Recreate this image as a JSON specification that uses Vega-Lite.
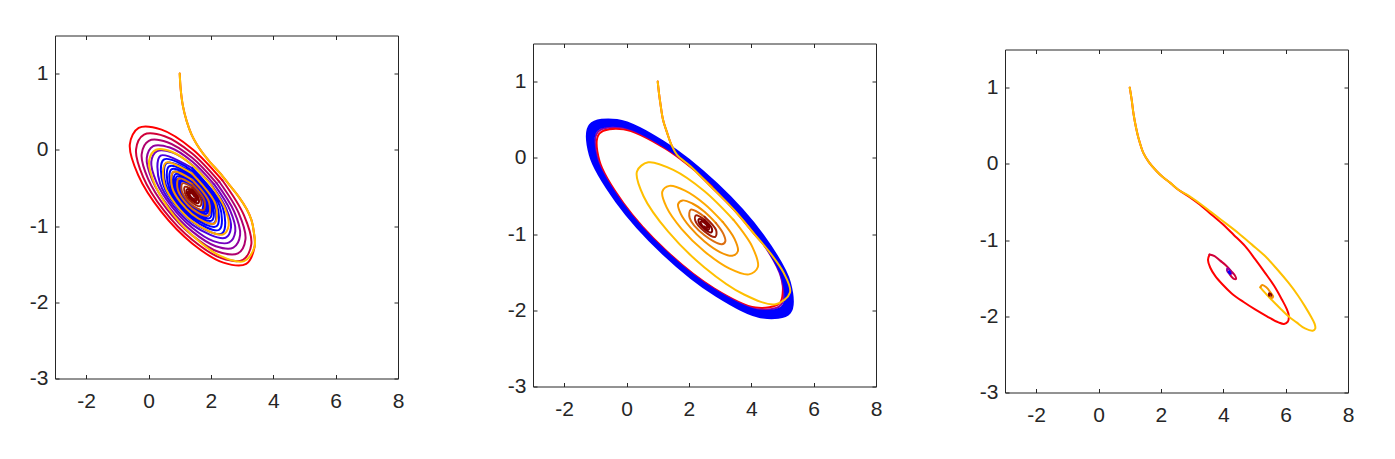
{
"$schema":"https://vega.github.io/schema/vega-lite/v6.json",
"padding":{"left":29,"top":32.5,"right":0,"bottom":0},
"background":"#ffffff",
"config":{"view":{"stroke":null},"axis":{"domainColor":"#262626","domainWidth":1,"tickColor":"#262626","tickWidth":1,"tickSize":-4,"labelColor":"#262626","labelFont":"Liberation Sans","labelFontSize":21,"grid":false,"labelFlush":false,"labelOverlap":false}},
"datasets":{"d":[
{"k":"1a0","c":"r","x":1.0,"y":1.0},{"k":"1a0","c":"r","x":1.03,"y":0.8},{"k":"1a0","c":"r","x":1.10,"y":0.58},{"k":"1a0","c":"r","x":1.22,"y":0.38},{"k":"1a0","c":"r","x":1.38,"y":0.2},{"k":"1a0","c":"r","x":1.55,"y":0.07},{"k":"1a0","c":"r","x":1.75,"y":-0.05},{"k":"1a0","c":"r","x":1.97,"y":-0.16},{"k":"1a0","c":"r","x":2.3,"y":-0.31},{"k":"1a0","c":"r","x":2.61,"y":-0.47},{"k":"1a0","c":"r","x":2.9,"y":-0.62},{"k":"1a0","c":"r","x":3.15,"y":-0.78},{"k":"1a0","c":"r","x":3.30,"y":-0.92},{"k":"1a0","c":"r","x":3.37,"y":-1.06},
{"k":"1a0","c":"r","x":3.400,"y":-1.272},{"k":"1a0","c":"r","x":3.132,"y":-1.496},{"k":"1a0","c":"r","x":2.400,"y":-1.480},{"k":"1a0","c":"r","x":1.400,"y":-1.228},{"k":"1a0","c":"r","x":0.400,"y":-0.808},{"k":"1a0","c":"r","x":-0.332,"y":-0.332},{"k":"1a0","c":"r","x":-0.600,"y":0.072},{"k":"1a0","c":"r","x":-0.317,"y":0.288},{"k":"1a0","c":"r","x":0.417,"y":0.265},{"k":"1a0","c":"r","x":1.400,"y":0.012},{"k":"1a0","c":"r","x":2.366,"y":-0.399},
{"k":"1a1","c":"cr","x":2.366,"y":-0.399},{"k":"1a1","c":"cr","x":3.058,"y":-0.857},{"k":"1a1","c":"cr","x":3.297,"y":-1.238},{"k":"1a1","c":"cr","x":3.029,"y":-1.443},{"k":"1a1","c":"cr","x":2.332,"y":-1.420},{"k":"1a1","c":"cr","x":1.400,"y":-1.180},{"k":"1a1","c":"cr","x":0.484,"y":-0.791},{"k":"1a1","c":"cr","x":-0.173,"y":-0.357},{"k":"1a1","c":"cr","x":-0.400,"y":0.005},{"k":"1a1","c":"cr","x":-0.145,"y":0.199},{"k":"1a1","c":"cr","x":0.516,"y":0.178},{"k":"1a1","c":"cr","x":1.400,"y":-0.049},{"k":"1a1","c":"cr","x":2.269,"y":-0.419},
{"k":"1a2","c":"mg","x":2.269,"y":-0.419},{"k":"1a2","c":"mg","x":2.892,"y":-0.831},{"k":"1a2","c":"mg","x":3.108,"y":-1.174},{"k":"1a2","c":"mg","x":2.866,"y":-1.358},{"k":"1a2","c":"mg","x":2.239,"y":-1.338},{"k":"1a2","c":"mg","x":1.400,"y":-1.122},{"k":"1a2","c":"mg","x":0.576,"y":-0.771},{"k":"1a2","c":"mg","x":-0.015,"y":-0.381},{"k":"1a2","c":"mg","x":-0.220,"y":-0.056},{"k":"1a2","c":"mg","x":0.009,"y":0.119},{"k":"1a2","c":"mg","x":0.604,"y":0.100},{"k":"1a2","c":"mg","x":1.400,"y":-0.105},{"k":"1a2","c":"mg","x":2.182,"y":-0.437},
{"k":"1a3","c":"pu","x":2.182,"y":-0.437},{"k":"1a3","c":"pu","x":2.743,"y":-0.808},{"k":"1a3","c":"pu","x":2.937,"y":-1.116},{"k":"1a3","c":"pu","x":2.719,"y":-1.282},{"k":"1a3","c":"pu","x":2.155,"y":-1.264},{"k":"1a3","c":"pu","x":1.400,"y":-1.070},{"k":"1a3","c":"pu","x":0.658,"y":-0.754},{"k":"1a3","c":"pu","x":0.126,"y":-0.403},{"k":"1a3","c":"pu","x":-0.058,"y":-0.110},{"k":"1a3","c":"pu","x":0.148,"y":0.048},{"k":"1a3","c":"pu","x":0.684,"y":0.030},{"k":"1a3","c":"pu","x":1.400,"y":-0.154},{"k":"1a3","c":"pu","x":2.104,"y":-0.454},
{"k":"1a4","c":"vi","x":2.104,"y":-0.454},{"k":"1a4","c":"vi","x":2.609,"y":-0.787},{"k":"1a4","c":"vi","x":2.783,"y":-1.065},{"k":"1a4","c":"vi","x":2.587,"y":-1.214},{"k":"1a4","c":"vi","x":2.080,"y":-1.198},{"k":"1a4","c":"vi","x":1.400,"y":-1.023},{"k":"1a4","c":"vi","x":0.732,"y":-0.739},{"k":"1a4","c":"vi","x":0.253,"y":-0.423},{"k":"1a4","c":"vi","x":0.088,"y":-0.159},{"k":"1a4","c":"vi","x":0.274,"y":-0.017},{"k":"1a4","c":"vi","x":0.755,"y":-0.033},{"k":"1a4","c":"vi","x":1.400,"y":-0.199},{"k":"1a4","c":"vi","x":2.034,"y":-0.468},
{"k":"1a5","c":"iv","x":2.034,"y":-0.468},{"k":"1a5","c":"iv","x":2.488,"y":-0.768},{"k":"1a5","c":"iv","x":2.645,"y":-1.018},{"k":"1a5","c":"iv","x":2.469,"y":-1.153},{"k":"1a5","c":"iv","x":1.400,"y":-0.981},{"k":"1a5","c":"iv","x":0.368,"y":-0.440},{"k":"1a5","c":"iv","x":0.387,"y":-0.076},{"k":"1a5","c":"iv","x":1.400,"y":-0.239},
{"k":"1a6","c":"bl","x":1.400,"y":-0.239},{"k":"1a6","c":"bl","x":2.379,"y":-0.751},{"k":"1a6","c":"bl","x":2.361,"y":-1.097},{"k":"1a6","c":"bl","x":1.400,"y":-0.943},{"k":"1a6","c":"bl","x":0.472,"y":-0.456},{"k":"1a6","c":"bl","x":0.487,"y":-0.128},{"k":"1a6","c":"bl","x":1.400,"y":-0.275},{"k":"1a6","c":"bl","x":2.282,"y":-0.736},{"k":"1a6","c":"bl","x":2.266,"y":-1.048},{"k":"1a6","c":"bl","x":1.400,"y":-0.908},{"k":"1a6","c":"bl","x":0.563,"y":-0.471},{"k":"1a6","c":"bl","x":0.579,"y":-0.175},{"k":"1a6","c":"bl","x":1.400,"y":-0.307},{"k":"1a6","c":"bl","x":2.193,"y":-0.723},{"k":"1a6","c":"bl","x":2.179,"y":-1.003},{"k":"1a6","c":"bl","x":1.400,"y":-0.878},{"k":"1a6","c":"bl","x":0.648,"y":-0.484},{"k":"1a6","c":"bl","x":0.660,"y":-0.217},{"k":"1a6","c":"bl","x":1.400,"y":-0.337},{"k":"1a6","c":"bl","x":2.114,"y":-0.710},{"k":"1a6","c":"bl","x":2.101,"y":-0.963},{"k":"1a6","c":"bl","x":1.400,"y":-0.850},{"k":"1a6","c":"bl","x":0.723,"y":-0.495},{"k":"1a6","c":"bl","x":0.735,"y":-0.256},{"k":"1a6","c":"bl","x":1.400,"y":-0.363},{"k":"1a6","c":"bl","x":2.043,"y":-0.699},{"k":"1a6","c":"bl","x":2.032,"y":-0.927},{"k":"1a6","c":"bl","x":1.400,"y":-0.825},{"k":"1a6","c":"bl","x":0.790,"y":-0.506},{"k":"1a6","c":"bl","x":0.801,"y":-0.290},{"k":"1a6","c":"bl","x":1.400,"y":-0.386},{"k":"1a6","c":"bl","x":1.978,"y":-0.690},{"k":"1a6","c":"bl","x":1.968,"y":-0.894},{"k":"1a6","c":"bl","x":1.400,"y":-0.803},{"k":"1a6","c":"bl","x":0.851,"y":-0.515},{"k":"1a6","c":"bl","x":0.860,"y":-0.320},{"k":"1a6","c":"bl","x":1.400,"y":-0.408},{"k":"1a6","c":"bl","x":1.921,"y":-0.681},{"k":"1a6","c":"bl","x":1.913,"y":-0.865},{"k":"1a6","c":"bl","x":1.400,"y":-0.783},{"k":"1a6","c":"bl","x":0.905,"y":-0.523},{"k":"1a6","c":"bl","x":0.913,"y":-0.348},{"k":"1a6","c":"bl","x":1.400,"y":-0.427},{"k":"1a6","c":"bl","x":1.869,"y":-0.673},{"k":"1a6","c":"bl","x":1.861,"y":-0.838},{"k":"1a6","c":"bl","x":1.400,"y":-0.765},{"k":"1a6","c":"bl","x":0.955,"y":-0.531},{"k":"1a6","c":"bl","x":0.962,"y":-0.373},{"k":"1a6","c":"bl","x":1.400,"y":-0.444},{"k":"1a6","c":"bl","x":1.823,"y":-0.665},{"k":"1a6","c":"bl","x":1.816,"y":-0.815},{"k":"1a6","c":"bl","x":1.400,"y":-0.748},{"k":"1a6","c":"bl","x":0.998,"y":-0.538},{"k":"1a6","c":"bl","x":1.005,"y":-0.396},{"k":"1a6","c":"bl","x":1.400,"y":-0.459},{"k":"1a6","c":"bl","x":1.781,"y":-0.659},{"k":"1a6","c":"bl","x":1.774,"y":-0.794},{"k":"1a6","c":"bl","x":1.400,"y":-0.733},{"k":"1a6","c":"bl","x":1.038,"y":-0.544},{"k":"1a6","c":"bl","x":1.045,"y":-0.416},{"k":"1a6","c":"bl","x":1.400,"y":-0.474},{"k":"1a6","c":"bl","x":1.743,"y":-0.653},{"k":"1a6","c":"bl","x":1.736,"y":-0.774},
{"k":"1b0","c":"go","x":1.0,"y":1.0},{"k":"1b0","c":"go","x":1.03,"y":0.8},{"k":"1b0","c":"go","x":1.10,"y":0.58},{"k":"1b0","c":"go","x":1.22,"y":0.38},{"k":"1b0","c":"go","x":1.38,"y":0.2},{"k":"1b0","c":"go","x":1.55,"y":0.07},{"k":"1b0","c":"go","x":1.75,"y":-0.05},{"k":"1b0","c":"go","x":1.97,"y":-0.16},{"k":"1b0","c":"go","x":2.3,"y":-0.31},{"k":"1b0","c":"go","x":2.61,"y":-0.47},{"k":"1b0","c":"go","x":2.9,"y":-0.62},{"k":"1b0","c":"go","x":3.15,"y":-0.78},{"k":"1b0","c":"go","x":3.30,"y":-0.92},{"k":"1b0","c":"go","x":3.37,"y":-1.06},
{"k":"1b0","c":"go","x":3.400,"y":-1.272},{"k":"1b0","c":"go","x":3.063,"y":-1.460},{"k":"1b0","c":"go","x":2.300,"y":-1.392},{"k":"1b0","c":"go","x":1.400,"y":-1.121},{"k":"1b0","c":"go","x":0.630,"y":-0.760},{"k":"1b0","c":"go","x":0.153,"y":-0.407},{"k":"1b0","c":"go","x":0.020,"y":-0.136},{"k":"1b0","c":"go","x":0.238,"y":0.001},{"k":"1b0","c":"go","x":0.747,"y":-0.025},{"k":"1b0","c":"go","x":1.400,"y":-0.201},{"k":"1b0","c":"go","x":2.018,"y":-0.471},
{"k":"1b1","c":"o1","x":2.018,"y":-0.471},{"k":"1b1","c":"o1","x":2.443,"y":-0.761},{"k":"1b1","c":"o1","x":2.570,"y":-0.993},{"k":"1b1","c":"o1","x":2.386,"y":-1.110},{"k":"1b1","c":"o1","x":1.400,"y":-0.938},{"k":"1b1","c":"o1","x":0.517,"y":-0.463},{"k":"1b1","c":"o1","x":0.563,"y":-0.167},{"k":"1b1","c":"o1","x":1.400,"y":-0.313},
{"k":"1b2","c":"o2","x":1.400,"y":-0.313},{"k":"1b2","c":"o2","x":2.150,"y":-0.716},{"k":"1b2","c":"o2","x":2.110,"y":-0.967},{"k":"1b2","c":"o2","x":1.400,"y":-0.844},{"k":"1b2","c":"o2","x":0.764,"y":-0.502},{"k":"1b2","c":"o2","x":0.797,"y":-0.288},{"k":"1b2","c":"o2","x":1.400,"y":-0.393},
{"k":"1b3","c":"o3","x":1.400,"y":-0.393},{"k":"1b3","c":"o3","x":1.940,"y":-0.684},{"k":"1b3","c":"o3","x":1.911,"y":-0.864},{"k":"1b3","c":"o3","x":1.400,"y":-0.775},{"k":"1b3","c":"o3","x":0.943,"y":-0.529},{"k":"1b3","c":"o3","x":0.967,"y":-0.376},{"k":"1b3","c":"o3","x":1.400,"y":-0.451},
{"k":"1b4","c":"o4","x":1.400,"y":-0.451},{"k":"1b4","c":"o4","x":1.788,"y":-0.660},{"k":"1b4","c":"o4","x":1.767,"y":-0.790},{"k":"1b4","c":"o4","x":1.400,"y":-0.726},{"k":"1b4","c":"o4","x":1.071,"y":-0.549},{"k":"1b4","c":"o4","x":1.088,"y":-0.439},{"k":"1b4","c":"o4","x":1.400,"y":-0.493},
{"k":"1b5","c":"o5","x":1.400,"y":-0.493},{"k":"1b5","c":"o5","x":1.679,"y":-0.643},{"k":"1b5","c":"o5","x":1.665,"y":-0.737},{"k":"1b5","c":"o5","x":1.400,"y":-0.691},{"k":"1b5","c":"o5","x":1.163,"y":-0.563},{"k":"1b5","c":"o5","x":1.175,"y":-0.484},{"k":"1b5","c":"o5","x":1.400,"y":-0.523},
{"k":"1b6","c":"dr","x":1.400,"y":-0.523},{"k":"1b6","c":"dr","x":1.601,"y":-0.631},{"k":"1b6","c":"dr","x":1.591,"y":-0.699},{"k":"1b6","c":"dr","x":1.400,"y":-0.665},{"k":"1b6","c":"dr","x":1.230,"y":-0.574},{"k":"1b6","c":"dr","x":1.239,"y":-0.517},{"k":"1b6","c":"dr","x":1.400,"y":-0.545},{"k":"1b6","c":"dr","x":1.544,"y":-0.622},{"k":"1b6","c":"dr","x":1.535,"y":-0.670},{"k":"1b6","c":"dr","x":1.400,"y":-0.646},{"k":"1b6","c":"dr","x":1.280,"y":-0.582},{"k":"1b6","c":"dr","x":1.287,"y":-0.542},{"k":"1b6","c":"dr","x":1.400,"y":-0.562},{"k":"1b6","c":"dr","x":1.499,"y":-0.615},{"k":"1b6","c":"dr","x":1.492,"y":-0.647},{"k":"1b6","c":"dr","x":1.400,"y":-0.631},{"k":"1b6","c":"dr","x":1.320,"y":-0.588},{"k":"1b6","c":"dr","x":1.326,"y":-0.561},{"k":"1b6","c":"dr","x":1.400,"y":-0.575},{"k":"1b6","c":"dr","x":1.464,"y":-0.610},
{"k":"2a0","c":"r","x":1.0,"y":1.0},{"k":"2a0","c":"r","x":1.04,"y":0.85},{"k":"2a0","c":"r","x":1.09,"y":0.70},{"k":"2a0","c":"r","x":1.17,"y":0.50},{"k":"2a0","c":"r","x":1.30,"y":0.33},{"k":"2a0","c":"r","x":1.45,"y":0.16},{"k":"2a0","c":"r","x":1.62,"y":0.04},{"k":"2a0","c":"r","x":2.05,"y":-0.11},{"k":"2a0","c":"r","x":2.69,"y":-0.37},{"k":"2a0","c":"r","x":3.44,"y":-0.68},{"k":"2a0","c":"r","x":4.08,"y":-0.99},{"k":"2a0","c":"r","x":4.61,"y":-1.25},
{"k":"2a0","c":"r","x":4.95,"y":-1.53},{"k":"2a0","c":"r","x":5.010,"y":-1.763},{"k":"2a0","c":"r","x":4.908,"y":-1.907},{"k":"2a0","c":"r","x":4.140,"y":-1.965},{"k":"2a0","c":"r","x":2.803,"y":-1.711},{"k":"2a0","c":"r","x":1.255,"y":-1.212},{"k":"2a0","c":"r","x":-0.090,"y":-0.600},{"k":"2a0","c":"r","x":-0.870,"y":-0.040},{"k":"2a0","c":"r","x":-0.874,"y":0.317},{"k":"2a0","c":"r","x":-0.100,"y":0.375},{"k":"2a0","c":"r","x":1.250,"y":0.119},{"k":"2a0","c":"r","x":2.812,"y":-0.384},
{"k":"2a1","c":"pu","x":2.812,"y":-0.384},{"k":"2a1","c":"pu","x":4.169,"y":-1.002},{"k":"2a1","c":"pu","x":4.956,"y":-1.567},{"k":"2a1","c":"pu","x":4.961,"y":-1.927},{"k":"2a1","c":"pu","x":4.179,"y":-1.986},{"k":"2a1","c":"pu","x":2.818,"y":-1.727},{"k":"2a1","c":"pu","x":1.241,"y":-1.219},{"k":"2a1","c":"pu","x":-0.128,"y":-0.596},{"k":"2a1","c":"pu","x":-0.923,"y":-0.026},{"k":"2a1","c":"pu","x":-0.927,"y":0.337},{"k":"2a1","c":"pu","x":-0.138,"y":0.397},{"k":"2a1","c":"pu","x":1.235,"y":0.136},{"k":"2a1","c":"pu","x":2.826,"y":-0.377},
{"k":"2a2","c":"bl","x":2.826,"y":-0.377},{"k":"2a2","c":"bl","x":4.208,"y":-1.006},{"k":"2a2","c":"bl","x":5.009,"y":-1.580},{"k":"2a2","c":"bl","x":5.014,"y":-1.948},{"k":"2a2","c":"bl","x":4.217,"y":-2.007},{"k":"2a2","c":"bl","x":2.832,"y":-1.744},{"k":"2a2","c":"bl","x":1.227,"y":-1.227},{"k":"2a2","c":"bl","x":-0.167,"y":-0.592},{"k":"2a2","c":"bl","x":-0.976,"y":-0.013},{"k":"2a2","c":"bl","x":-0.980,"y":0.358},{"k":"2a2","c":"bl","x":-0.177,"y":0.418},{"k":"2a2","c":"bl","x":1.221,"y":0.152},{"k":"2a2","c":"bl","x":2.840,"y":-0.369},{"k":"2a2","c":"bl","x":4.246,"y":-1.009},{"k":"2a2","c":"bl","x":5.062,"y":-1.594},{"k":"2a2","c":"bl","x":5.066,"y":-1.968},{"k":"2a2","c":"bl","x":4.256,"y":-2.029},{"k":"2a2","c":"bl","x":2.846,"y":-1.761},{"k":"2a2","c":"bl","x":1.213,"y":-1.234},{"k":"2a2","c":"bl","x":-0.206,"y":-0.589},{"k":"2a2","c":"bl","x":-1.028,"y":0.001},{"k":"2a2","c":"bl","x":-1.033,"y":0.378},{"k":"2a2","c":"bl","x":-0.215,"y":0.439},{"k":"2a2","c":"bl","x":1.207,"y":0.169},{"k":"2a2","c":"bl","x":2.854,"y":-0.362},{"k":"2a2","c":"bl","x":4.285,"y":-1.013},{"k":"2a2","c":"bl","x":5.115,"y":-1.608},{"k":"2a2","c":"bl","x":5.119,"y":-1.988},{"k":"2a2","c":"bl","x":4.295,"y":-2.050},{"k":"2a2","c":"bl","x":2.860,"y":-1.777},{"k":"2a2","c":"bl","x":1.199,"y":-1.242},{"k":"2a2","c":"bl","x":-0.244,"y":-0.585},{"k":"2a2","c":"bl","x":-1.081,"y":0.015},{"k":"2a2","c":"bl","x":-1.085,"y":0.398},{"k":"2a2","c":"bl","x":-0.254,"y":0.461},{"k":"2a2","c":"bl","x":1.193,"y":0.186},{"k":"2a2","c":"bl","x":2.868,"y":-0.354},{"k":"2a2","c":"bl","x":4.324,"y":-1.017},{"k":"2a2","c":"bl","x":5.167,"y":-1.622},{"k":"2a2","c":"bl","x":5.172,"y":-2.009},{"k":"2a2","c":"bl","x":4.333,"y":-2.071},{"k":"2a2","c":"bl","x":2.874,"y":-1.794},{"k":"2a2","c":"bl","x":1.185,"y":-1.249},{"k":"2a2","c":"bl","x":-0.283,"y":-0.582},{"k":"2a2","c":"bl","x":-1.134,"y":0.029},{"k":"2a2","c":"bl","x":-1.138,"y":0.419},{"k":"2a2","c":"bl","x":-0.293,"y":0.482},{"k":"2a2","c":"bl","x":1.179,"y":0.202},{"k":"2a2","c":"bl","x":2.882,"y":-0.347},{"k":"2a2","c":"bl","x":4.362,"y":-1.020},{"k":"2a2","c":"bl","x":5.220,"y":-1.636},{"k":"2a2","c":"bl","x":5.225,"y":-2.029},{"k":"2a2","c":"bl","x":4.369,"y":-2.091},{"k":"2a2","c":"bl","x":2.886,"y":-1.808},{"k":"2a2","c":"bl","x":1.174,"y":-1.255},{"k":"2a2","c":"bl","x":-0.309,"y":-0.579},{"k":"2a2","c":"bl","x":-1.165,"y":0.037},{"k":"2a2","c":"bl","x":-1.165,"y":0.429},{"k":"2a2","c":"bl","x":-0.309,"y":0.491},{"k":"2a2","c":"bl","x":1.174,"y":0.208},{"k":"2a2","c":"bl","x":2.886,"y":-0.345},{"k":"2a2","c":"bl","x":4.369,"y":-1.021},{"k":"2a2","c":"bl","x":5.225,"y":-1.637},{"k":"2a2","c":"bl","x":5.225,"y":-2.029},{"k":"2a2","c":"bl","x":4.369,"y":-2.091},{"k":"2a2","c":"bl","x":2.886,"y":-1.808},
{"k":"2b0","c":"go","x":1.0,"y":1.0},{"k":"2b0","c":"go","x":1.04,"y":0.85},{"k":"2b0","c":"go","x":1.09,"y":0.70},{"k":"2b0","c":"go","x":1.17,"y":0.50},{"k":"2b0","c":"go","x":1.30,"y":0.33},{"k":"2b0","c":"go","x":1.45,"y":0.16},{"k":"2b0","c":"go","x":1.62,"y":0.04},{"k":"2b0","c":"go","x":2.05,"y":-0.11},{"k":"2b0","c":"go","x":2.69,"y":-0.37},{"k":"2b0","c":"go","x":3.44,"y":-0.68},{"k":"2b0","c":"go","x":4.08,"y":-0.99},{"k":"2b0","c":"go","x":4.61,"y":-1.25},
{"k":"2b0","c":"go","x":5.04,"y":-1.51},{"k":"2b0","c":"go","x":5.242,"y":-1.766},{"k":"2b0","c":"go","x":4.784,"y":-1.920},{"k":"2b0","c":"go","x":3.768,"y":-1.793},{"k":"2b0","c":"go","x":2.500,"y":-1.438},{"k":"2b0","c":"go","x":1.329,"y":-0.966},{"k":"2b0","c":"go","x":0.549,"y":-0.507},{"k":"2b0","c":"go","x":0.334,"y":-0.180},{"k":"2b0","c":"go","x":0.696,"y":-0.059},{"k":"2b0","c":"go","x":1.499,"y":-0.159},{"k":"2b0","c":"go","x":2.500,"y":-0.439},{"k":"2b0","c":"go","x":3.425,"y":-0.812},
{"k":"2b1","c":"o1","x":3.425,"y":-0.812},{"k":"2b1","c":"o1","x":4.041,"y":-1.174},{"k":"2b1","c":"o1","x":4.211,"y":-1.433},{"k":"2b1","c":"o1","x":3.925,"y":-1.529},{"k":"2b1","c":"o1","x":3.291,"y":-1.450},{"k":"2b1","c":"o1","x":2.500,"y":-1.228},{"k":"2b1","c":"o1","x":1.768,"y":-0.934},{"k":"2b1","c":"o1","x":1.282,"y":-0.647},{"k":"2b1","c":"o1","x":1.147,"y":-0.443},{"k":"2b1","c":"o1","x":1.375,"y":-0.368},{"k":"2b1","c":"o1","x":1.876,"y":-0.430},{"k":"2b1","c":"o1","x":2.500,"y":-0.605},{"k":"2b1","c":"o1","x":3.078,"y":-0.838},
{"k":"2b2","c":"o2","x":3.078,"y":-0.838},{"k":"2b2","c":"o2","x":3.463,"y":-1.064},{"k":"2b2","c":"o2","x":3.570,"y":-1.226},{"k":"2b2","c":"o2","x":3.390,"y":-1.285},{"k":"2b2","c":"o2","x":2.995,"y":-1.236},{"k":"2b2","c":"o2","x":2.500,"y":-1.098},{"k":"2b2","c":"o2","x":2.043,"y":-0.913},{"k":"2b2","c":"o2","x":1.739,"y":-0.735},{"k":"2b2","c":"o2","x":1.654,"y":-0.607},{"k":"2b2","c":"o2","x":1.795,"y":-0.559},{"k":"2b2","c":"o2","x":2.110,"y":-0.599},{"k":"2b2","c":"o2","x":2.500,"y":-0.708},{"k":"2b2","c":"o2","x":2.861,"y":-0.854},
{"k":"2b3","c":"o3","x":2.861,"y":-0.854},{"k":"2b3","c":"o3","x":3.101,"y":-0.995},{"k":"2b3","c":"o3","x":3.168,"y":-1.096},{"k":"2b3","c":"o3","x":3.055,"y":-1.133},{"k":"2b3","c":"o3","x":2.500,"y":-1.016},{"k":"2b3","c":"o3","x":2.025,"y":-0.789},{"k":"2b3","c":"o3","x":2.061,"y":-0.680},{"k":"2b3","c":"o3","x":2.500,"y":-0.773},
{"k":"2b4","c":"o5","x":2.500,"y":-0.773},{"k":"2b4","c":"o5","x":2.874,"y":-0.951},{"k":"2b4","c":"o5","x":2.846,"y":-1.037},{"k":"2b4","c":"o5","x":2.500,"y":-0.965},{"k":"2b4","c":"o5","x":2.203,"y":-0.823},{"k":"2b4","c":"o5","x":2.226,"y":-0.755},{"k":"2b4","c":"o5","x":2.500,"y":-0.813},
{"k":"2b5","c":"dr","x":2.500,"y":-0.813},{"k":"2b5","c":"dr","x":2.735,"y":-0.925},{"k":"2b5","c":"dr","x":2.717,"y":-0.979},{"k":"2b5","c":"dr","x":2.500,"y":-0.933},{"k":"2b5","c":"dr","x":2.314,"y":-0.845},{"k":"2b5","c":"dr","x":2.330,"y":-0.802},{"k":"2b5","c":"dr","x":2.500,"y":-0.838},{"k":"2b5","c":"dr","x":2.647,"y":-0.908},{"k":"2b5","c":"dr","x":2.634,"y":-0.941},{"k":"2b5","c":"dr","x":2.500,"y":-0.913},{"k":"2b5","c":"dr","x":2.384,"y":-0.858},{"k":"2b5","c":"dr","x":2.394,"y":-0.832},{"k":"2b5","c":"dr","x":2.500,"y":-0.854},{"k":"2b5","c":"dr","x":2.590,"y":-0.897},{"k":"2b5","c":"dr","x":2.585,"y":-0.919},{"k":"2b5","c":"dr","x":2.500,"y":-0.900},
{"k":"3a0","c":"r","x":1.0,"y":1.0},{"k":"3a0","c":"r","x":1.06,"y":0.85},{"k":"3a0","c":"r","x":1.12,"y":0.66},{"k":"3a0","c":"r","x":1.2,"y":0.48},{"k":"3a0","c":"r","x":1.28,"y":0.34},{"k":"3a0","c":"r","x":1.44,"y":0.14},{"k":"3a0","c":"r","x":1.62,"y":0.02},{"k":"3a0","c":"r","x":1.85,"y":-0.09},{"k":"3a0","c":"r","x":2.05,"y":-0.17},{"k":"3a0","c":"r","x":2.3,"y":-0.25},{"k":"3a0","c":"r","x":2.56,"y":-0.34},
{"k":"3a0","c":"r","x":2.9,"y":-0.43},{"k":"3a0","c":"r","x":3.2,"y":-0.52},{"k":"3a0","c":"r","x":3.58,"y":-0.65},{"k":"3a0","c":"r","x":3.95,"y":-0.78},{"k":"3a0","c":"r","x":4.33,"y":-0.93},{"k":"3a0","c":"r","x":4.70,"y":-1.08},{"k":"3a0","c":"r","x":5.02,"y":-1.25},{"k":"3a0","c":"r","x":5.34,"y":-1.43},{"k":"3a0","c":"r","x":5.63,"y":-1.60},{"k":"3a0","c":"r","x":5.88,"y":-1.78},{"k":"3a0","c":"r","x":6.03,"y":-1.90},{"k":"3a0","c":"r","x":6.10,"y":-1.99},{"k":"3a0","c":"r","x":6.07,"y":-2.07},{"k":"3a0","c":"r","x":5.95,"y":-2.10},{"k":"3a0","c":"r","x":5.77,"y":-2.08},{"k":"3a0","c":"r","x":5.40,"y":-2.00},{"k":"3a0","c":"r","x":5.02,"y":-1.91},{"k":"3a0","c":"r","x":4.64,"y":-1.81},{"k":"3a0","c":"r","x":4.27,"y":-1.70},{"k":"3a0","c":"r","x":3.97,"y":-1.58},{"k":"3a0","c":"r","x":3.74,"y":-1.47},{"k":"3a0","c":"r","x":3.58,"y":-1.36},{"k":"3a0","c":"r","x":3.51,"y":-1.26},{"k":"3a0","c":"r","x":3.56,"y":-1.19},
{"k":"3a1","c":"cr","x":3.56,"y":-1.19},{"k":"3a1","c":"cr","x":3.72,"y":-1.21},{"k":"3a1","c":"cr","x":3.90,"y":-1.27},{"k":"3a1","c":"cr","x":4.08,"y":-1.33},{"k":"3a1","c":"cr","x":4.26,"y":-1.41},{"k":"3a1","c":"cr","x":4.38,"y":-1.47},{"k":"3a1","c":"cr","x":4.41,"y":-1.51},{"k":"3a1","c":"cr","x":4.34,"y":-1.51},{"k":"3a1","c":"cr","x":4.21,"y":-1.45},
{"k":"3a2","c":"pu","x":4.21,"y":-1.45},{"k":"3a2","c":"pu","x":4.12,"y":-1.40},{"k":"3a2","c":"pu","x":4.14,"y":-1.37},{"k":"3a2","c":"pu","x":4.22,"y":-1.40},{"k":"3a2","c":"pu","x":4.27,"y":-1.44},{"k":"3a2","c":"pu","x":4.22,"y":-1.44},
{"k":"3a3","c":"bl","x":4.22,"y":-1.44},{"k":"3a3","c":"bl","x":4.17,"y":-1.42},{"k":"3a3","c":"bl","x":4.19,"y":-1.41},{"k":"3a3","c":"bl","x":4.21,"y":-1.42},
{"k":"3b0","c":"go","x":1.0,"y":1.0},{"k":"3b0","c":"go","x":1.06,"y":0.85},{"k":"3b0","c":"go","x":1.12,"y":0.66},{"k":"3b0","c":"go","x":1.2,"y":0.48},{"k":"3b0","c":"go","x":1.28,"y":0.34},{"k":"3b0","c":"go","x":1.44,"y":0.14},{"k":"3b0","c":"go","x":1.62,"y":0.02},{"k":"3b0","c":"go","x":1.85,"y":-0.09},{"k":"3b0","c":"go","x":2.05,"y":-0.17},{"k":"3b0","c":"go","x":2.3,"y":-0.25},{"k":"3b0","c":"go","x":2.56,"y":-0.34},
{"k":"3b0","c":"go","x":2.9,"y":-0.42},{"k":"3b0","c":"go","x":3.25,"y":-0.52},{"k":"3b0","c":"go","x":3.6,"y":-0.63},{"k":"3b0","c":"go","x":3.95,"y":-0.74},{"k":"3b0","c":"go","x":4.49,"y":-0.91},{"k":"3b0","c":"go","x":4.92,"y":-1.06},{"k":"3b0","c":"go","x":5.34,"y":-1.21},{"k":"3b0","c":"go","x":5.72,"y":-1.38},{"k":"3b0","c":"go","x":6.09,"y":-1.56},{"k":"3b0","c":"go","x":6.40,"y":-1.73},{"k":"3b0","c":"go","x":6.62,"y":-1.87},{"k":"3b0","c":"go","x":6.82,"y":-2.01},{"k":"3b0","c":"go","x":6.93,"y":-2.10},{"k":"3b0","c":"go","x":6.95,"y":-2.16},{"k":"3b0","c":"go","x":6.87,"y":-2.19},{"k":"3b0","c":"go","x":6.62,"y":-2.16},{"k":"3b0","c":"go","x":6.35,"y":-2.08},{"k":"3b0","c":"go","x":6.09,"y":-2.00},{"k":"3b0","c":"go","x":5.86,"y":-1.91},{"k":"3b0","c":"go","x":5.66,"y":-1.83},{"k":"3b0","c":"go","x":5.45,"y":-1.74},{"k":"3b0","c":"go","x":5.29,"y":-1.67},{"k":"3b0","c":"go","x":5.19,"y":-1.62},
{"k":"3b1","c":"o2","x":5.19,"y":-1.62},{"k":"3b1","c":"o2","x":5.25,"y":-1.59},{"k":"3b1","c":"o2","x":5.38,"y":-1.62},{"k":"3b1","c":"o2","x":5.52,"y":-1.69},{"k":"3b1","c":"o2","x":5.60,"y":-1.74},{"k":"3b1","c":"o2","x":5.56,"y":-1.76},{"k":"3b1","c":"o2","x":5.47,"y":-1.73},
{"k":"3b2","c":"dr","x":5.47,"y":-1.73},{"k":"3b2","c":"dr","x":5.47,"y":-1.70},{"k":"3b2","c":"dr","x":5.53,"y":-1.71},{"k":"3b2","c":"dr","x":5.54,"y":-1.73}
]},
"data":{"name":"d"},
"spacing":0,
"hconcat":[
{"width":343,"height":343,"resolve":{"axis":{"x":"independent","y":"independent"}},"layer":[
{"transform":[{"filter":"substring(datum.k,0,2)=='1a'"}],"mark":{"type":"line","interpolate":"catmull-rom","strokeWidth":2,"strokeJoin":"round","strokeCap":"round"},"encoding":{
"x":{"field":"x","type":"quantitative","scale":{"domain":[-3,8],"nice":false,"zero":false},"axis":{"orient":"bottom","values":[-2,0,2,4,6,8],"labelPadding":16.4,"labelExpr":"datum.value < 0 ? '-' + abs(datum.value) : '' + datum.value","title":null}},
"y":{"field":"y","type":"quantitative","scale":{"domain":[-3,1.5],"nice":false,"zero":false},"axis":{"orient":"left","values":[-3,-2,-1,0,1],"labelPadding":11,"labelExpr":"datum.value < 0 ? '-' + abs(datum.value) : '' + datum.value","title":null}},
"color":{"field":"c","type":"nominal","scale":{"domain":["r","cr","mg","pu","vi","iv","bl","go","o1","o2","o3","o4","o5","dr"],"range":["#FF0000","#D0003A","#B0006E","#9200A0","#7200C0","#4A00E0","#0000FF","#FFC000","#FFAA00","#F39200","#DC6E10","#BC4410","#A02008","#800000"]},"legend":null},
"detail":{"field":"k"},"order":{"value":null}}},
{"transform":[{"filter":"substring(datum.k,0,2)=='1b'"}],"mark":{"type":"line","interpolate":"catmull-rom","strokeWidth":2,"strokeJoin":"round","strokeCap":"round"},"encoding":{
"x":{"field":"x","type":"quantitative","scale":{"domain":[-3,8],"nice":false,"zero":false},"axis":{"orient":"top","values":[-2,0,2,4,6,8],"labels":false,"title":null}},
"y":{"field":"y","type":"quantitative","scale":{"domain":[-3,1.5],"nice":false,"zero":false},"axis":{"orient":"right","values":[-3,-2,-1,0,1],"labels":false,"title":null}},
"color":{"field":"c","type":"nominal","scale":{"domain":["r","cr","mg","pu","vi","iv","bl","go","o1","o2","o3","o4","o5","dr"],"range":["#FF0000","#D0003A","#B0006E","#9200A0","#7200C0","#4A00E0","#0000FF","#FFC000","#FFAA00","#F39200","#DC6E10","#BC4410","#A02008","#800000"]},"legend":null},
"detail":{"field":"k"},"order":{"value":null}}}
]},
{"width":102.8,"height":1,"data":{"values":[{"a":0}]},"mark":{"type":"point","opacity":0},"encoding":{}},
{"spacing":0,"vconcat":[
{"width":343,"height":7,"data":{"values":[{"a":0}]},"mark":{"type":"point","opacity":0},"encoding":{}},
{"width":343,"height":343,"resolve":{"axis":{"x":"independent","y":"independent"}},"layer":[
{"transform":[{"filter":"substring(datum.k,0,2)=='2a' && datum.k != '2a2'"}],"mark":{"type":"line","interpolate":"catmull-rom","strokeWidth":2,"strokeJoin":"round","strokeCap":"round"},"encoding":{
"x":{"field":"x","type":"quantitative","scale":{"domain":[-3,8],"nice":false,"zero":false},"axis":{"orient":"bottom","values":[-2,0,2,4,6,8],"labelPadding":16.4,"labelExpr":"datum.value < 0 ? '-' + abs(datum.value) : '' + datum.value","title":null}},
"y":{"field":"y","type":"quantitative","scale":{"domain":[-3,1.5],"nice":false,"zero":false},"axis":{"orient":"left","values":[-3,-2,-1,0,1],"labelPadding":11,"labelExpr":"datum.value < 0 ? '-' + abs(datum.value) : '' + datum.value","title":null}},
"color":{"field":"c","type":"nominal","scale":{"domain":["r","cr","mg","pu","vi","iv","bl","go","o1","o2","o3","o4","o5","dr"],"range":["#FF0000","#D0003A","#B0006E","#9200A0","#7200C0","#4A00E0","#0000FF","#FFC000","#FFAA00","#F39200","#DC6E10","#BC4410","#A02008","#800000"]},"legend":null},
"detail":{"field":"k"},"order":{"value":null}}},
{"transform":[{"filter":"datum.k == '2a2'"}],"mark":{"type":"line","interpolate":"catmull-rom","strokeWidth":2.8,"strokeJoin":"round","strokeCap":"round"},"encoding":{
"x":{"field":"x","type":"quantitative","scale":{"domain":[-3,8],"nice":false,"zero":false},"axis":null},
"y":{"field":"y","type":"quantitative","scale":{"domain":[-3,1.5],"nice":false,"zero":false},"axis":null},
"color":{"field":"c","type":"nominal","scale":{"domain":["r","cr","mg","pu","vi","iv","bl","go","o1","o2","o3","o4","o5","dr"],"range":["#FF0000","#D0003A","#B0006E","#9200A0","#7200C0","#4A00E0","#0000FF","#FFC000","#FFAA00","#F39200","#DC6E10","#BC4410","#A02008","#800000"]},"legend":null},
"detail":{"field":"k"},"order":{"value":null}}},
{"transform":[{"filter":"substring(datum.k,0,2)=='2b'"}],"mark":{"type":"line","interpolate":"catmull-rom","strokeWidth":2,"strokeJoin":"round","strokeCap":"round"},"encoding":{
"x":{"field":"x","type":"quantitative","scale":{"domain":[-3,8],"nice":false,"zero":false},"axis":{"orient":"top","values":[-2,0,2,4,6,8],"labels":false,"title":null}},
"y":{"field":"y","type":"quantitative","scale":{"domain":[-3,1.5],"nice":false,"zero":false},"axis":{"orient":"right","values":[-3,-2,-1,0,1],"labels":false,"title":null}},
"color":{"field":"c","type":"nominal","scale":{"domain":["r","cr","mg","pu","vi","iv","bl","go","o1","o2","o3","o4","o5","dr"],"range":["#FF0000","#D0003A","#B0006E","#9200A0","#7200C0","#4A00E0","#0000FF","#FFC000","#FFAA00","#F39200","#DC6E10","#BC4410","#A02008","#800000"]},"legend":null},
"detail":{"field":"k"},"order":{"value":null}}}
]}
]},
{"width":96.1,"height":1,"data":{"values":[{"a":0}]},"mark":{"type":"point","opacity":0},"encoding":{}},
{"spacing":0,"vconcat":[
{"width":343,"height":13,"data":{"values":[{"a":0}]},"mark":{"type":"point","opacity":0},"encoding":{}},
{"width":343,"height":343,"resolve":{"axis":{"x":"independent","y":"independent"}},"layer":[
{"transform":[{"filter":"substring(datum.k,0,2)=='3a'"}],"mark":{"type":"line","interpolate":"catmull-rom","strokeWidth":2,"strokeJoin":"round","strokeCap":"round"},"encoding":{
"x":{"field":"x","type":"quantitative","scale":{"domain":[-3,8],"nice":false,"zero":false},"axis":{"orient":"bottom","values":[-2,0,2,4,6,8],"labelPadding":16.4,"labelExpr":"datum.value < 0 ? '-' + abs(datum.value) : '' + datum.value","title":null}},
"y":{"field":"y","type":"quantitative","scale":{"domain":[-3,1.5],"nice":false,"zero":false},"axis":{"orient":"left","values":[-3,-2,-1,0,1],"labelPadding":11,"labelExpr":"datum.value < 0 ? '-' + abs(datum.value) : '' + datum.value","title":null}},
"color":{"field":"c","type":"nominal","scale":{"domain":["r","cr","mg","pu","vi","iv","bl","go","o1","o2","o3","o4","o5","dr"],"range":["#FF0000","#D0003A","#B0006E","#9200A0","#7200C0","#4A00E0","#0000FF","#FFC000","#FFAA00","#F39200","#DC6E10","#BC4410","#A02008","#800000"]},"legend":null},
"detail":{"field":"k"},"order":{"value":null}}},
{"transform":[{"filter":"substring(datum.k,0,2)=='3b'"}],"mark":{"type":"line","interpolate":"catmull-rom","strokeWidth":2,"strokeJoin":"round","strokeCap":"round"},"encoding":{
"x":{"field":"x","type":"quantitative","scale":{"domain":[-3,8],"nice":false,"zero":false},"axis":{"orient":"top","values":[-2,0,2,4,6,8],"labels":false,"title":null}},
"y":{"field":"y","type":"quantitative","scale":{"domain":[-3,1.5],"nice":false,"zero":false},"axis":{"orient":"right","values":[-3,-2,-1,0,1],"labels":false,"title":null}},
"color":{"field":"c","type":"nominal","scale":{"domain":["r","cr","mg","pu","vi","iv","bl","go","o1","o2","o3","o4","o5","dr"],"range":["#FF0000","#D0003A","#B0006E","#9200A0","#7200C0","#4A00E0","#0000FF","#FFC000","#FFAA00","#F39200","#DC6E10","#BC4410","#A02008","#800000"]},"legend":null},
"detail":{"field":"k"},"order":{"value":null}}}
]}
]}
]
}
